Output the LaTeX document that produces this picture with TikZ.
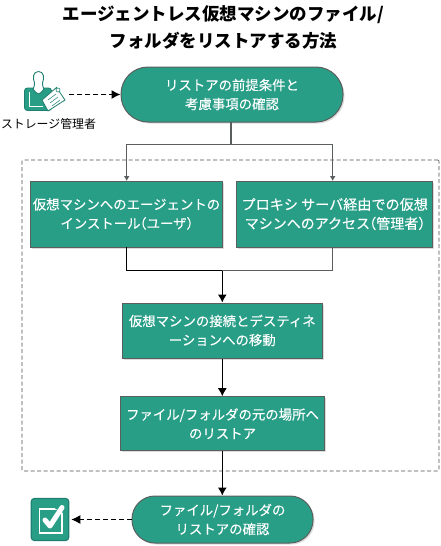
\documentclass[tikz,border=0pt]{standalone}
\usepackage{fontspec}
\setmainfont{Noto Sans CJK JP}
\newfontfamily\bodyf[FakeBold=0.12]{Noto Sans CJK JP}
\usetikzlibrary{arrows.meta,calc,shadows}
\definecolor{teal1}{HTML}{299E87}
\definecolor{edge1}{HTML}{5A5F5E}
\definecolor{dark1}{HTML}{1F7F70}
\newcommand{\lp}{\hspace*{-0.55em}（}
\newcommand{\rp}{）\hspace*{-0.55em}}
\tikzset{
 x=1pt,y=-1pt,
 boxa/.style={draw=edge1,line width=1pt,fill=teal1,text=white,align=center,font=\bodyf\fontsize{13.4}{19}\selectfont,inner sep=0pt,anchor=center,general shadow={shadow xshift=1.5pt,shadow yshift=-1.5pt,fill=black!14}},
 conn/.style={black,line width=1.1pt,-{Latex[length=8pt,width=9pt]}},
 conng/.style={draw=edge1,line width=1pt,-{Latex[length=5pt,width=6pt]}},
 plain/.style={line width=1.1pt},
 dashc/.style={black,line width=1.2pt,dash pattern=on 5pt off 3pt,-{Latex[length=9pt,width=9pt]}},
}
\begin{document}
\begin{tikzpicture}
\useasboundingbox (0,0) rectangle (440,546);
\node[font=\fontsize{17.5}{27.5}\selectfont\bfseries,align=center,text=black,inner sep=0pt] (title) at (223.5,27.5) {エージェントレス仮想マシンのファイル/\\フォルダをリストアする方法};
\node[draw=black!70,dash pattern=on 4pt off 2.5pt,line width=0.7pt,rounded corners=1,minimum width=417,minimum height=311,inner sep=0pt] (frame) at (230.5,315.5) {};
\node[boxa,minimum width=222,minimum height=55,rounded corners=27] (start) at (232,94.5) {リストアの前提条件と\\考慮事項の確認};
\node[boxa,minimum width=192.5,minimum height=66] (left) at (126.5,214) {仮想マシンへのエージェントの\\インストール\lp ユーザ\rp};
\node[boxa,minimum width=196,minimum height=66] (right) at (334.7,214) {{\fontsize{14.1}{19}\selectfont プロキシ サーバ経由での仮想}\\{\fontsize{14}{19}\selectfont マシンへのアクセス\lp 管理者\rp}};
\node[boxa,minimum width=200.5,minimum height=55] (conn1) at (222.3,330.5) {仮想マシンの接続とデスティネ\\ーションへの移動};
\node[boxa,minimum width=203.5,minimum height=54] (rest) at (222.5,423.7) {ファイル/フォルダの元の場所へ\\のリストア};
\node[boxa,minimum width=181,minimum height=47,rounded corners=23] (end) at (222.5,519.5) {ファイル/フォルダの\\リストアの確認};
\node[font=\fontsize{11.9}{15}\selectfont,inner sep=0pt] (admin) at (48.5,124) {ストレージ管理者};
% person icon
\coordinate (iconr) at (69,94.5);
\draw[dark1,line width=0.9pt,fill=teal1,rounded corners=3] (24.5,88) -- (51.5,88) -- (51.5,110.5) -- (24.5,110.5) -- cycle;
\draw[white,line width=0.9pt] (29.5,92) -- (29.5,106.5) -- (43,106.5);
\draw[dark1,line width=0.9pt,fill=white] (38.5,71.5) .. controls (33,71.5) and (32.5,78) .. (34.5,83) .. controls (34.5,87) and (33,89) .. (33,89) .. controls (35,92) and (37,93.5) .. (38.5,94) .. controls (40,93.5) and (42,92) .. (44,89) .. controls (44,89) and (42.5,87) .. (42.5,83) .. controls (44.5,78) and (44,71.5) .. (38.5,71.5) -- cycle;
\draw[dark1,line width=0.8pt,fill=white] (42,100) -- (56.5,87.5) -- (65,100) -- (48,111) -- cycle;
\draw[dark1,line width=0.5pt] (48,100) -- (56,94) (50,103) -- (58,97) (52,106) -- (60,100);
\draw[dark1,line width=0.6pt,fill=white] (58,90) circle (2);
% check icon
\node[draw=dark1,fill=teal1,line width=1.1pt,rounded corners=3,minimum width=37.5,minimum height=42,inner sep=0pt] (check) at (50,519.5) {};
\draw[white,line width=1.2pt] (39.5,509) -- (62,509) -- (62,533) -- (39.5,533) -- cycle;
\draw[teal1,line width=8pt] (57,505) -- (66,510);
\draw[white,line width=5pt,line cap=round,line join=round] (45,520) -- (50,526) -- (62,507.5);
% connectors
\draw[dashc] (iconr) -- (start.west);
\coordinate (bus) at (231,144.7);
\coordinate (lt) at (126.7,181);
\coordinate (rt) at (332.7,181);
\coordinate (lb) at (126.7,247);
\coordinate (rb) at (332.7,247);
\draw[plain,draw=edge1] (231,122) -- (bus);
\draw[conng] (bus) -| (lt);
\draw[conng] (bus) -| (rt);
\coordinate (j) at (222.3,270.7);
\draw[plain,black] (lb) |- (j);
\draw[plain,draw=edge1] (rb) |- (j);
\draw[conn] (j) -- (conn1.north);
\draw[conn] (conn1.south) -- (rest.north -| conn1.south);
\draw[conn] (rest.south -| conn1.south) -- (end.north -| conn1.south);
\draw[dashc] (end.west) -- ($(check.east)+(2,0)$);
\end{tikzpicture}
\end{document}
